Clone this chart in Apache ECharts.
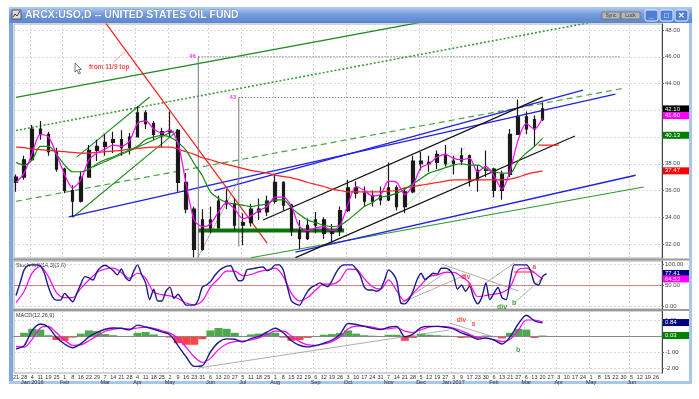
<!DOCTYPE html>
<html>
<head>
<meta charset="utf-8">
<script src="https://cdn.jsdelivr.net/npm/echarts@6/dist/echarts.min.js"></script>
<style>
  html, body { margin: 0; padding: 0; background: #fff; }
  #chart { width: 699px; height: 399px; }
</style>
</head>
<body>
<div id="chart"></div>
<script>
// first trading day of every week on the time axis
const weeks = [
  '2015-12-21', '2015-12-28',
  '2016-01-04', '2016-01-11', '2016-01-19', '2016-01-25', '2016-02-01', '2016-02-08', '2016-02-16', '2016-02-22', '2016-02-29',
  '2016-03-07', '2016-03-14', '2016-03-21', '2016-03-28', '2016-04-04', '2016-04-11', '2016-04-18', '2016-04-25',
  '2016-05-02', '2016-05-09', '2016-05-16', '2016-05-23', '2016-05-31', '2016-06-06', '2016-06-13', '2016-06-20', '2016-06-27',
  '2016-07-05', '2016-07-11', '2016-07-18', '2016-07-25', '2016-08-01', '2016-08-08', '2016-08-15', '2016-08-22', '2016-08-29',
  '2016-09-06', '2016-09-12', '2016-09-19', '2016-09-26', '2016-10-03', '2016-10-10', '2016-10-17', '2016-10-24', '2016-10-31',
  '2016-11-07', '2016-11-14', '2016-11-21', '2016-11-28', '2016-12-05', '2016-12-12', '2016-12-19', '2016-12-27',
  '2017-01-03', '2017-01-09', '2017-01-17', '2017-01-23', '2017-01-30', '2017-02-06', '2017-02-13', '2017-02-21', '2017-02-27',
  '2017-03-06', '2017-03-13', '2017-03-20', '2017-03-27', '2017-04-03', '2017-04-10', '2017-04-17', '2017-04-24',
  '2017-05-01', '2017-05-08', '2017-05-15', '2017-05-22', '2017-05-30', '2017-06-05', '2017-06-12', '2017-06-19', '2017-06-26'
];

// weekly price bars
const weekOpen  = [36.6, 37.0, 38.3, 40.6, 40.2, 38.9, 37.6, 36.0, 35.2, 37.0, 39.0, 39.3, 39.6, 39.8, 39.2, 40.0, 41.8, 41.0, 40.2, 40.4, 40.5, 36.6, 34.6, 31.6, 33.8, 33.2, 35.2, 35.0, 33.4, 33.6, 34.6, 34.4, 35.2, 36.6, 34.9, 33.0, 32.4, 33.4, 33.8, 32.8, 33.0, 34.5, 36.2, 35.8, 35.2, 35.6, 35.3, 36.2, 34.8, 35.9, 38.2, 38.0, 38.1, 38.7, 38.0, 38.2, 38.6, 36.8, 37.5, 37.6, 36.0, 37.2, 40.2, 41.5, 40.6, 41.3];
const weekHigh  = [37.2, 38.6, 40.9, 41.2, 40.4, 39.2, 37.7, 36.4, 37.4, 39.4, 39.8, 40.2, 40.4, 40.5, 40.3, 42.3, 42.0, 41.2, 40.7, 41.9, 40.6, 37.3, 34.8, 34.6, 34.8, 35.6, 36.1, 35.4, 34.3, 35.0, 35.4, 35.6, 37.2, 36.7, 35.0, 33.8, 33.9, 34.4, 34.0, 33.5, 34.8, 36.8, 36.7, 36.3, 36.0, 36.3, 38.1, 36.4, 36.2, 38.6, 38.9, 38.6, 39.0, 39.4, 38.6, 39.2, 38.7, 37.9, 39.0, 37.7, 37.5, 40.6, 42.8, 41.9, 41.6, 42.6];
const weekLow   = [35.9, 36.8, 38.2, 39.8, 38.6, 37.4, 35.8, 34.0, 35.1, 37.0, 38.2, 38.6, 38.8, 38.6, 38.7, 40.0, 40.6, 39.8, 39.2, 40.0, 35.9, 34.3, 31.0, 31.5, 32.8, 33.2, 34.6, 33.0, 31.9, 33.3, 33.8, 34.1, 35.0, 34.5, 32.6, 31.6, 32.3, 32.8, 32.4, 32.1, 32.6, 34.4, 35.4, 34.8, 34.8, 34.9, 35.2, 34.5, 34.3, 35.8, 37.5, 37.4, 37.6, 37.8, 37.2, 37.9, 36.3, 35.9, 37.0, 35.5, 35.3, 37.0, 40.2, 40.2, 39.3, 41.2];
const weekClose = [37.0, 38.3, 40.6, 40.2, 38.9, 37.6, 36.0, 35.2, 37.0, 39.0, 39.3, 39.6, 39.8, 39.2, 40.0, 41.8, 41.0, 40.2, 40.4, 40.5, 36.6, 34.6, 31.6, 33.8, 33.2, 35.2, 35.0, 33.4, 33.6, 34.6, 34.4, 35.2, 36.6, 34.9, 33.0, 32.4, 33.4, 33.8, 32.8, 33.0, 34.5, 36.2, 35.8, 35.2, 35.6, 35.3, 36.2, 34.8, 35.9, 38.2, 38.0, 38.1, 38.7, 38.0, 38.2, 38.6, 36.8, 37.5, 37.6, 36.0, 37.2, 40.2, 41.5, 40.6, 41.3, 42.1];

// moving averages, one reading per week
const maShort = [36.6, 37.3, 38.8, 40.2, 40.0, 38.7, 37.2, 36.2, 36.8, 38.3, 38.8, 39.1, 39.4, 39.3, 39.7, 41.0, 41.2, 40.6, 40.3, 40.5, 39.5, 36.5, 33.8, 33.3, 33.5, 34.4, 35.1, 34.6, 33.9, 34.1, 34.5, 34.8, 35.5, 35.5, 34.8, 33.3, 33.0, 33.2, 33.3, 33.0, 33.4, 35.0, 36.3, 36.0, 35.6, 35.7, 36.7, 36.6, 35.7, 36.4, 37.7, 38.0, 38.5, 38.7, 38.4, 38.3, 38.4, 37.4, 37.8, 37.1, 36.1, 37.5, 39.8, 41.0, 40.6, 41.4];
const maMid   = [38.1, 37.9, 38.3, 39.3, 39.3, 38.7, 37.9, 37.4, 37.4, 37.6, 38.0, 38.3, 38.5, 38.8, 39.0, 39.3, 39.8, 40.0, 40.1, 40.0, 39.6, 39.0, 38.0, 37.1, 35.9, 35.4, 35.1, 35.0, 34.9, 34.8, 34.9, 35.0, 35.3, 35.3, 34.7, 34.2, 33.8, 33.6, 33.4, 33.3, 33.4, 33.8, 34.3, 34.8, 35.1, 35.5, 35.6, 35.8, 36.1, 36.5, 36.9, 37.3, 37.5, 37.7, 37.9, 38.0, 37.9, 37.9, 37.6, 37.4, 37.3, 37.3, 38.2, 38.8, 39.3, 39.9];
const maLong  = [39.25, 39.2, 39.1, 39.05, 39.0, 38.95, 38.9, 38.85, 38.8, 38.8, 38.85, 38.9, 38.95, 39.0, 39.1, 39.15, 39.2, 39.25, 39.25, 39.25, 39.1, 38.9, 38.7, 38.45, 38.3, 38.1, 37.95, 37.8, 37.65, 37.5, 37.4, 37.3, 37.15, 37.05, 36.95, 36.8, 36.6, 36.45, 36.3, 36.1, 36.0, 35.9, 35.9, 35.9, 35.9, 35.9, 35.95, 36.0, 36.2, 36.3, 36.4, 36.5, 36.6, 36.7, 36.8, 36.8, 36.8, 36.8, 36.8, 36.8, 36.8, 36.85, 37.0, 37.2, 37.35, 37.47];

// stochastics: %K twice a week, %D once a week
const stochK = [25, 55, 86, 97, 98, 98, 96, 78, 45, 22, 14, 14, 30, 20, 10, 30, 52, 70, 67, 62, 82, 93, 97, 92, 84, 74, 88, 68, 60, 82, 98, 75, 55, 15, 40, 12, 12, 35, 45, 18, 28, 15, 2, 2, 2, 15, 45, 50, 58, 72, 83, 90, 95, 96, 76, 60, 62, 86, 88, 90, 92, 93, 84, 88, 98, 98, 85, 45, 12, 5, 2, 18, 35, 45, 50, 55, 50, 46, 60, 79, 93, 98, 98, 98, 88, 72, 45, 38, 38, 35, 40, 62, 86, 78, 60, 7, 5, 15, 35, 62, 78, 63, 70, 78, 76, 90, 90, 86, 72, 40, 50, 35, 48, 20, 5, 20, 55, 15, 30, 44, 20, 15, 60, 98, 98, 98, 98, 85, 55, 50, 70, 77];
const stochD = [8, 35, 79, 94, 70, 32, 20, 20, 42, 62, 80, 88, 90, 80, 66, 78, 66, 33, 27, 24, 18, 7, 3, 12, 45, 65, 83, 83, 72, 75, 82, 86, 90, 70, 30, 12, 20, 38, 52, 52, 62, 88, 87, 65, 46, 40, 62, 36, 12, 30, 50, 70, 74, 80, 80, 70, 54, 22, 25, 28, 32, 45, 86, 90, 79, 64];

// MACD(12,26,9), weekly readings
const macdLine   = [-0.8, -0.6, 0.35, 0.75, 0.55, -0.1, -0.5, -0.73, -0.48, -0.05, 0.22, 0.42, 0.5, 0.48, 0.38, 0.68, 0.56, 0.42, 0.26, 0.08, -0.6, -1.3, -1.9, -1.85, -1.0, -0.4, -0.18, -0.2, -0.37, -0.16, -0.02, 0.25, 0.48, 0.2, -0.3, -0.58, -0.68, -0.6, -0.45, -0.25, 0.1, 0.78, 0.72, 0.6, 0.48, 0.4, 0.55, 0.6, -0.05, 0.12, 0.52, 0.6, 0.6, 0.55, 0.45, 0.19, 0.02, -0.2, -0.12, -0.25, -0.5, -0.05, 0.75, 1.3, 0.95, 0.82];
const macdSignal = [-0.65, -0.7, -0.2, 0.5, 0.6, 0.2, -0.25, -0.58, -0.55, -0.3, 0.0, 0.3, 0.42, 0.48, 0.44, 0.5, 0.56, 0.48, 0.33, 0.18, -0.15, -0.7, -1.3, -1.65, -1.4, -0.85, -0.5, -0.35, -0.32, -0.25, -0.12, 0.1, 0.3, 0.3, 0.0, -0.35, -0.55, -0.58, -0.5, -0.35, -0.05, 0.45, 0.62, 0.62, 0.55, 0.45, 0.45, 0.52, 0.3, 0.22, 0.4, 0.55, 0.6, 0.58, 0.5, 0.32, 0.1, -0.08, -0.15, -0.22, -0.35, -0.2, 0.35, 1.0, 1.0, 0.88];
const macdHist   = [-0.05, 0.2, 0.45, 0.4, 0.05, -0.25, -0.3, -0.1, 0.15, 0.35, 0.3, 0.12, 0.05, -0.04, -0.05, 0.2, 0.25, 0.1, -0.05, -0.1, -0.45, -0.55, -0.55, -0.2, 0.35, 0.5, 0.45, 0.2, -0.05, 0.1, 0.15, 0.2, 0.2, -0.1, -0.3, -0.25, -0.12, 0.0, 0.08, 0.12, 0.18, 0.35, 0.15, 0.05, 0.02, -0.05, 0.08, 0.08, -0.3, -0.12, 0.15, 0.08, 0.05, 0.02, -0.05, -0.12, -0.1, -0.15, 0.03, -0.05, -0.15, 0.2, 0.45, 0.4, -0.12, 0.03];

// tick labels on the right axes
const priceTicks = [32, 34, 36, 38, 40, 42, 44, 46, 48];
const stochTicks = [0, 50, 100];
const macdTicks = [-2, -1, 0, 1];

// last values shown in boxes on the axes
const priceTags = [42.10, 41.60, 40.13, 37.47];
const stochTags = [77.41, 64.53];
const macdTags = [0.84, 0.03];

// hand drawn trend lines: [half-week slot, value]
const lineGreenTop    = [[0, 42.96], [100, 48.58]];
const lineGreenDotted = [[0, 40.49], [150, 49.03]];
const lineGreenDashed = [[0, 35.19], [150, 43.64]];
const lineGreenBottom = [[58, 30.97], [155, 36.26]];
const lineGreenFanA   = [[15, 38.5], [33, 42.99]];
const lineGreenFanB   = [[19, 37.76], [39, 40.44]];
const lineGreenFanC   = [[14, 34.0], [40, 40.49]];
const lineGreenFaint  = [[96, 34.77], [111, 39.25]];
const lineSupport     = [[45, 33.0], [81, 33.0]];
const lineBlueLow     = [[13, 34.02], [148, 43.21]];
const lineBlueHigh    = [[49, 35.99], [140, 43.51]];
const lineBlueBottom  = [[69, 31.40], [153, 37.14]];
const lineBlackHigh   = [[61, 33.79], [130, 42.98]];
const lineBlackLow    = [[69, 30.98], [138, 40.07]];
const lineRedSteep    = [[22, 48.58], [62, 32.07]];
const lineRedShort    = [[129, 39.4], [134, 39.4]];
const lineRedLeader   = [[24, 45.6], [27, 46.4]];
const lineGrayRise    = [[45, 31.05], [55, 36.8]];
const target46Stem    = [[45, 30.95], [45, 46.0]];
const target46Level   = [[45, 46.0], [149, 46.0]];
const target43Stem    = [[55, 31.8], [55, 42.95]];
const target43Level   = [[55, 42.95], [126, 42.95]];

const stochFanA    = [[95, 7], [107, 86]];
const stochFanB    = [[95, 7], [111, 74]];
const stochDivLine = [[105, 100], [124, 36]];
const stochRise    = [[116, 55], [123, 102]];
const stochTrend   = [[123, 7], [130, 67]];
const stochRedMark = [[123, 81], [128, 81]];

const macdTrend   = [[45, -2.0], [107, 0.38]];
const macdDivLine = [[107, 0.81], [118, -0.06]];

// notes written on the chart
const priceRedNotes = [{at: [23, 45.23], text: 'from 11/9 top'}];
const priceTargetNotes = [{at: [45, 46.0], text: '46'}, {at: [55, 42.95], text: '43'}];
const stochRedNotes = [{at: [111, 69], text: 'div'}, {at: [112, 50], text: 'a'}, {at: [128, 93], text: 'a'}];
const stochGreenNotes = [{at: [123, 8], text: 'b'}, {at: [120, -3], text: 'div'}];
const macdRedNotes = [{at: [110, 1.0], text: 'div'}, {at: [113, 0.72], text: 's'}];
const macdGreenNotes = [{at: [124, -0.88], text: 'b'}];

const MONTH_NAMES = ['Jan', 'Feb', 'Mar', 'Apr', 'May', 'Jun', 'Jul', 'Aug', 'Sep', 'Oct', 'Nov', 'Dec'];
const FONT = '"Liberation Sans", Arial, sans-serif';

// two slots per week so %K can be drawn twice a week
const categories = [];
weeks.forEach(function (w) { categories.push(w, w + '+'); });

function isMonthTick(index) {
  if (index % 2) return false;
  return +weeks[index / 2].slice(8) <= 7;
}

function weekly(values) {
  return values.map(function (v, i) { return [2 * i, v]; });
}

const chart = echarts.init(document.getElementById('chart'));
const series = [];

function segment(points, grid, color, width, type, z) {
  series.push({
    type: 'line', xAxisIndex: grid, yAxisIndex: grid, data: points,
    symbol: 'none', silent: true, z: z || 2,
    lineStyle: {color: color, width: width, type: type || 'solid'}
  });
}

function notes(grid, items, color, size, position) {
  series.push({
    type: 'scatter', xAxisIndex: grid, yAxisIndex: grid, symbolSize: 1, silent: true, z: 8,
    itemStyle: {color: 'rgba(0,0,0,0)'},
    data: items.map(function (n) { return {value: n.at, label: {formatter: n.text}}; }),
    label: {show: true, position: position || 'inside', distance: 2, color: color,
      fontSize: size, fontWeight: 'bold', fontFamily: FONT}
  });
}

function tag(value, bg) {
  return {
    yAxis: value,
    lineStyle: {color: 'rgba(0,0,0,0)', width: 0},
    label: {show: true, position: 'end', distance: 1, formatter: value.toFixed(2),
      backgroundColor: bg, color: '#fff', fontSize: 6, fontFamily: FONT,
      padding: [1, 2, 0, 2], width: 22}
  };
}

function markerLines(items) {
  return {symbol: 'none', silent: true, animation: false, data: items};
}

// ---- price panel ----
segment(lineGreenTop, 0, '#1f8a1f', 1.3);
segment(lineGreenDotted, 0, '#3c9c3c', 1.6, [2, 2]);
segment(lineGreenDashed, 0, '#4ca24c', 1.2, [6, 4]);
segment(lineGreenBottom, 0, '#2f9a2f', 1.2);
segment(lineGreenFanA, 0, '#1f8a1f', 1.1);
segment(lineGreenFanB, 0, '#1f8a1f', 1.1);
segment(lineGreenFanC, 0, '#1f8a1f', 1.1);
segment(lineGreenFaint, 0, '#9fcf9f', 0.8);
segment(lineBlueLow, 0, '#1f1fe6', 1.3);
segment(lineBlueHigh, 0, '#1f1fe6', 1.3);
segment(lineBlueBottom, 0, '#1f1fe6', 1.3);
segment(lineBlackHigh, 0, '#111', 1.2);
segment(lineBlackLow, 0, '#111', 1.2);
segment(lineRedSteep, 0, '#ff1a1a', 1.2);
segment(lineRedShort, 0, '#ff1a1a', 1.2);
segment(lineRedLeader, 0, '#ff6060', 0.6);
segment(lineGrayRise, 0, '#999', 0.8);
segment(target46Stem, 0, '#777', 1);
segment(target46Level, 0, '#888', 1, [1.5, 1.5]);
segment(target43Stem, 0, '#777', 1);
segment(target43Level, 0, '#888', 1, [1.5, 1.5]);
segment(lineSupport, 0, '#0a740a', 4, 'solid', 4);

series.push({
  type: 'candlestick', xAxisIndex: 0, yAxisIndex: 0, z: 5,
  data: weekOpen.map(function (o, i) { return [2 * i, o, weekClose[i], weekLow[i], weekHigh[i]]; }),
  encode: {x: 0, y: [1, 2, 3, 4]},
  barWidth: 3,
  itemStyle: {color: '#1a1a1a', color0: '#1a1a1a', borderColor: '#1a1a1a', borderColor0: '#1a1a1a', borderWidth: 1.2},
  markLine: markerLines([
    tag(priceTags[0], '#000'), tag(priceTags[1], '#ff00ff'),
    tag(priceTags[2], '#008000'), tag(priceTags[3], '#ff0000')
  ])
});

[[maLong, '#ff2020'], [maMid, '#138a13'], [maShort, '#ff00ff']].forEach(function (ma) {
  series.push({
    type: 'line', xAxisIndex: 0, yAxisIndex: 0, data: weekly(ma[0]), smooth: 0.3,
    symbol: 'none', silent: true, z: 6, lineStyle: {color: ma[1], width: 1.2}
  });
});

notes(0, priceRedNotes, '#ff2020', 6.5);
notes(0, priceTargetNotes, '#ff00ff', 6, 'left');

// ---- stochastics panel ----
segment(stochFanA, 1, '#999', 0.8);
segment(stochFanB, 1, '#999', 0.8);
segment(stochDivLine, 1, '#999', 0.8);
segment(stochRise, 1, '#999', 0.8);
segment(stochTrend, 1, '#999', 0.8);
segment(stochRedMark, 1, '#ff2020', 1.2, 'solid', 7);

series.push({
  type: 'line', xAxisIndex: 1, yAxisIndex: 1, data: weekly(stochD), smooth: 0.3,
  symbol: 'none', silent: true, z: 5, lineStyle: {color: '#ff00ff', width: 1.2}
});
series.push({
  type: 'line', xAxisIndex: 1, yAxisIndex: 1, data: stochK, smooth: 0.25,
  symbol: 'none', silent: true, z: 6, lineStyle: {color: '#1a1a8a', width: 1.4},
  markLine: markerLines([
    {yAxis: 50, lineStyle: {color: '#d98080', width: 1, type: 'solid'}, label: {show: false}},
    tag(stochTags[0], '#000080'), tag(stochTags[1], '#ff00ff')
  ])
});
notes(1, stochRedNotes, '#ff2020', 6.5);
notes(1, stochGreenNotes, '#1f8a1f', 7);

// ---- MACD panel ----
series.push({
  type: 'bar', xAxisIndex: 2, yAxisIndex: 2, data: weekly(macdHist), barWidth: 8, silent: true, z: 2,
  itemStyle: {color: function (p) { return p.value[1] >= 0 ? '#4fa84f' : '#ff4444'; }},
  markLine: markerLines([
    {yAxis: 0, lineStyle: {color: '#888', width: 1, type: 'solid'}, label: {show: false}},
    tag(macdTags[0], '#000080'), tag(macdTags[1], '#008000')
  ])
});
segment(macdTrend, 2, '#999', 0.8);
segment(macdDivLine, 2, '#999', 0.8);
series.push({
  type: 'line', xAxisIndex: 2, yAxisIndex: 2, data: weekly(macdSignal), smooth: 0.3,
  symbol: 'none', silent: true, z: 5, lineStyle: {color: '#ff00ff', width: 1.2}
});
series.push({
  type: 'line', xAxisIndex: 2, yAxisIndex: 2, data: weekly(macdLine), smooth: 0.3,
  symbol: 'none', silent: true, z: 6, lineStyle: {color: '#1a1a8a', width: 1.4}
});
notes(2, macdRedNotes, '#ff2020', 6.5);
notes(2, macdGreenNotes, '#1f8a1f', 7);

// ---- axes ----
function xAxisFor(grid, withLabels) {
  return {
    type: 'category', gridIndex: grid, data: categories, boundaryGap: true,
    axisLine: {show: withLabels, lineStyle: {color: '#555'}},
    axisTick: {show: false},
    axisLabel: {
      show: withLabels, interval: function (i) { return i % 2 === 0; },
      margin: 2, fontSize: 5.5, lineHeight: 5, color: '#333', fontFamily: FONT,
      formatter: function (value) {
        const day = +value.slice(8, 10);
        if (day > 7) return String(day);
        const m = +value.slice(5, 7);
        return day + '\n{m|' + MONTH_NAMES[m - 1] + (m === 1 ? ' ' + value.slice(0, 4) : '') + '}';
      },
      rich: {m: {fontSize: 5.5, lineHeight: 5, color: '#333', fontFamily: FONT}}
    },
    splitLine: {show: true, interval: isMonthTick, lineStyle: {color: '#d4d4d4', type: [2, 2]}}
  };
}

function yAxisFor(grid, min, max, ticks) {
  return {
    type: 'value', gridIndex: grid, position: 'right', min: min, max: max,
    axisLine: {show: true, lineStyle: {color: '#444'}},
    axisTick: {show: true, length: 2, customValues: ticks, lineStyle: {color: '#666'}},
    axisLabel: {customValues: ticks, margin: 3, fontSize: 6, color: '#444', fontFamily: FONT,
      formatter: function (v) { return v.toFixed(2); }},
    splitLine: {show: true, lineStyle: {color: '#d8d8d8', type: [2, 2]}}
  };
}

const titleGradient = new echarts.graphic.LinearGradient(0, 0, 0, 1, [
  {offset: 0, color: '#b3cdf2'}, {offset: 0.45, color: '#779ddd'}, {offset: 1, color: '#5a86d0'}
]);

function button(x, label) {
  return [
    {type: 'rect', shape: {x: x, y: 10, width: 13, height: 11, r: 2},
      style: {fill: '#4f7fd4', stroke: '#e8f0ff', lineWidth: 1}},
    {type: 'text', style: {x: x + 6.5, y: 15.5, text: label, fill: '#fff', align: 'center',
      verticalAlign: 'middle', font: 'bold 8px ' + FONT}}
  ];
}

chart.setOption({
  animation: false,
  backgroundColor: '#fff',
  textStyle: {fontFamily: FONT},
  grid: [
    {left: 14, right: 37, top: 24, height: 234, show: true, borderColor: '#aaa', borderWidth: 1},
    {left: 14, right: 37, top: 261, height: 48, show: true, borderColor: '#aaa', borderWidth: 1},
    {left: 14, right: 37, top: 311, height: 62, show: true, borderColor: '#aaa', borderWidth: 1}
  ],
  xAxis: [xAxisFor(0, false), xAxisFor(1, false), xAxisFor(2, true)],
  yAxis: [
    yAxisFor(0, 30.953, 48.449, priceTicks),
    yAxisFor(1, -7.14, 107.14, stochTicks),
    yAxisFor(2, -2.3125, 1.5625, macdTicks)
  ],
  series: series,
  graphic: [
    // window frame and title bar
    {type: 'rect', shape: {x: 9, y: 7, width: 4, height: 376}, style: {fill: '#7fa7e2'}},
    {type: 'rect', shape: {x: 689, y: 7, width: 3, height: 376}, style: {fill: '#a9c6ee'}},
    {type: 'rect', shape: {x: 9, y: 381, width: 683, height: 3}, style: {fill: '#a9c6ee'}},
    {type: 'rect', shape: {x: 9, y: 7, width: 683, height: 16}, style: {fill: titleGradient}},
    {type: 'rect', shape: {x: 12, y: 10, width: 9, height: 9}, style: {fill: '#ddd', stroke: '#555', lineWidth: 1}},
    {type: 'polyline', shape: {points: [[13, 17], [15, 14], [17, 16], [20, 11]]}, style: {stroke: '#333', lineWidth: 1, fill: 'none'}},
    {type: 'text', style: {x: 25, y: 15.5, text: 'ARCX:USO,D -- UNITED STATES OIL FUND', fill: '#fff',
      stroke: '#3a5f9e', lineWidth: 0.5, verticalAlign: 'middle', font: 'bold 10.5px ' + FONT}},
    {type: 'rect', shape: {x: 602, y: 12, width: 18, height: 7}, style: {fill: '#b8b8b8', stroke: '#6a6a6a', lineWidth: 0.8}},
    {type: 'text', style: {x: 611, y: 15.5, text: 'Sync', fill: '#333', align: 'center', verticalAlign: 'middle', font: '5px ' + FONT}},
    {type: 'rect', shape: {x: 621, y: 12, width: 19, height: 7}, style: {fill: '#b8b8b8', stroke: '#6a6a6a', lineWidth: 0.8}},
    {type: 'text', style: {x: 630.5, y: 15.5, text: 'Lock', fill: '#333', align: 'center', verticalAlign: 'middle', font: '5px ' + FONT}}
  ].concat(button(645, '_'), button(660, '□'), button(675, '✕'), [
    // panel separators
    {type: 'rect', shape: {x: 13, y: 258.5, width: 676, height: 2}, style: {fill: '#9a9a9a'}},
    {type: 'rect', shape: {x: 13, y: 309, width: 676, height: 2}, style: {fill: '#9a9a9a'}},
    // panel captions
    {type: 'text', style: {x: 16, y: 265, text: 'Stoch %K(14,3)(3,0)', fill: '#333', verticalAlign: 'middle', font: '5.5px ' + FONT}},
    {type: 'text', style: {x: 16, y: 315, text: 'MACD(12,26,9)', fill: '#333', verticalAlign: 'middle', font: '5.5px ' + FONT}},
    // mouse pointer left on the screenshot
    {type: 'polygon', shape: {points: [[75, 63], [75, 72], [77, 70], [79, 74], [80.5, 73.3], [78.6, 69.5], [81.5, 69.5]]},
      style: {fill: '#fff', stroke: '#555', lineWidth: 0.8}}
  ])
});
</script>
</body>
</html>
